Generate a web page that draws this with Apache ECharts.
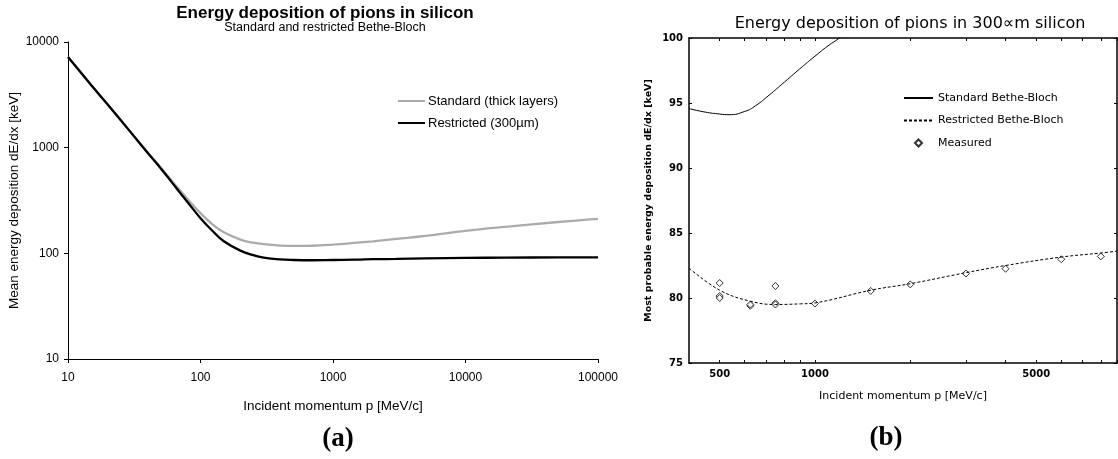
<!DOCTYPE html>
<html>
<head>
<meta charset="utf-8">
<script src="https://cdn.jsdelivr.net/npm/echarts@6/dist/echarts.min.js"></script>
<style>
  html, body { margin: 0; padding: 0; background: #fff; }
  #chart { width: 1118px; height: 459px; }
</style>
</head>
<body>
<div id="chart"></div>
<script>
// (a) Mean energy deposition vs momentum, log-log
const momentumA = [10, 15, 20, 30, 40, 50, 60, 70, 80, 100, 125, 150, 200, 250, 300, 400, 500, 700, 1000, 1500, 2000, 3000, 5000, 10000, 20000, 50000, 100000];
const standardA = [7200, 3900, 2550, 1380, 900, 650, 495, 395, 325, 240, 185, 158, 135, 126, 122, 118.5, 117.5, 118, 121, 126, 130, 137, 146, 163, 178, 198, 212];
const restrictedA = [7200, 3900, 2550, 1380, 890, 640, 480, 375, 305, 215, 160, 130, 106, 96, 91, 87.5, 86.5, 86, 86.5, 87, 88, 88.5, 89.5, 90.5, 91, 91.5, 91.5];
const ticksA_x = [10, 100, 1000, 10000, 100000];
const ticksA_y = [10, 100, 1000, 10000];

// (b) Most probable energy deposition in 300 um silicon
const momentumB = [400, 450, 500, 535, 600, 650, 716, 800, 913, 1000, 1100, 1194, 1300];
const standardB = [94.57, 94.3, 94.15, 94.1, 94.35, 94.8, 95.6, 96.6, 97.8, 98.6, 99.4, 100, 100.8];
const momentumBr = [400, 500, 625, 750, 900, 1000, 1500, 2000, 3000, 4000, 6000, 8000, 9000];
const restrictedB = [82.3, 80.6, 79.75, 79.5, 79.55, 79.62, 80.6, 81.1, 81.95, 82.5, 83.15, 83.46, 83.6];
const measuredP = [500, 500, 500, 625, 625, 750, 750, 750, 1000, 1500, 2000, 3000, 4000, 6000, 8000];
const measuredE = [81.15, 80.15, 80.0, 79.4, 79.5, 80.92, 79.6, 79.5, 79.57, 80.54, 81.05, 81.88, 82.25, 82.98, 83.2];
const labelsB_x = [500, 1000, 5000];
const ticksB_x = [500, 600, 700, 800, 900, 1000, 2000, 3000, 4000, 5000, 6000, 7000, 8000, 9000];

const zip = (xs, ys) => xs.map((x, i) => [x, ys[i]]);
const plain = v => String(Math.round(v));

const chart = echarts.init(document.getElementById('chart'), null, { renderer: 'canvas' });

const fontA = 'Liberation Sans, Arial, sans-serif';
const fontB = 'DejaVu Sans, sans-serif';
const hiddenMarker = { opacity: 0 };

chart.setOption({
  backgroundColor: '#fff',
  animation: false,
  title: [
    { text: 'Energy deposition of pions in silicon', left: 320, top: 0, textAlign: 'center',
      textStyle: { fontFamily: fontA, fontSize: 17, fontWeight: 'bold', color: '#000' } },
    { text: 'Standard and restricted Bethe-Bloch', left: 320, top: 16, textAlign: 'center',
      textStyle: { fontFamily: fontA, fontSize: 12.5, fontWeight: 'normal', color: '#000' } },
    { text: 'Energy deposition of pions in 300\u221Dm silicon', left: 905, top: 11, textAlign: 'center',
      textStyle: { fontFamily: fontB, fontSize: 16, fontWeight: 'normal', color: '#000' } },
    { text: '(a)', left: 333, top: 421, textAlign: 'center',
      textStyle: { fontFamily: 'Liberation Serif, serif', fontSize: 27, fontWeight: 'bold', color: '#000' } },
    { text: '(b)', left: 881, top: 420, textAlign: 'center',
      textStyle: { fontFamily: 'Liberation Serif, serif', fontSize: 27, fontWeight: 'bold', color: '#000' } }
  ],
  legend: [
    { left: 397, top: 94, padding: 0, orient: 'vertical', itemWidth: 27, itemHeight: 14, itemGap: 8,
      itemStyle: hiddenMarker,
      data: ['Standard (thick layers)', 'Restricted (300\u00B5m)'],
      textStyle: { fontFamily: fontA, fontSize: 13, lineHeight: 14, color: '#000', padding: [0, 0, 0, -2] } },
    { left: 903, top: 91, padding: 0, orient: 'vertical', itemWidth: 29, itemHeight: 14, itemGap: 8.5,
      itemStyle: hiddenMarker,
      data: ['Standard Bethe-Bloch', 'Restricted Bethe-Bloch'],
      textStyle: { fontFamily: fontB, fontSize: 11, lineHeight: 14, color: '#000' } },
    { left: 914, top: 136, padding: 0, orient: 'vertical', itemWidth: 7, itemHeight: 7,
      data: ['Measured'],
      textStyle: { fontFamily: fontB, fontSize: 11, lineHeight: 14, color: '#000', padding: [0, 0, 0, 11] } }
  ],
  grid: [
    { left: 68, top: 42, width: 530, height: 317 },
    { left: 689, top: 38, width: 428, height: 325 }
  ],
  xAxis: [
    { gridIndex: 0, type: 'log', logBase: 10, min: 10, max: 100000,
      name: 'Incident momentum p [MeV/c]', nameLocation: 'middle', nameGap: 40,
      nameTextStyle: { fontFamily: fontA, fontSize: 13.5, color: '#000' },
      axisLine: { lineStyle: { color: '#000', width: 1 } },
      axisTick: { show: true, inside: false, length: 4, customValues: ticksA_x, lineStyle: { color: '#000' } },
      axisLabel: { customValues: ticksA_x, formatter: plain, fontFamily: fontA, fontSize: 12, color: '#000', margin: 13 },
      splitLine: { show: false }, minorTick: { show: false } },
    { gridIndex: 1, type: 'log', logBase: 10, min: 400, max: 9000, position: 'bottom',
      name: 'Incident momentum p [MeV/c]', nameLocation: 'middle', nameGap: 28,
      nameTextStyle: { fontFamily: fontB, fontSize: 11, color: '#000' },
      axisLine: { onZero: false, lineStyle: { color: '#000', width: 1.5 } },
      axisTick: { show: true, inside: true, length: 3, customValues: ticksB_x, lineStyle: { color: '#000' } },
      axisLabel: { customValues: labelsB_x, formatter: plain, fontFamily: fontB, fontSize: 10, fontWeight: 'bold', color: '#000', margin: 6 },
      splitLine: { show: false } },
    { gridIndex: 1, type: 'log', logBase: 10, min: 400, max: 9000, position: 'top',
      axisLine: { onZero: false, lineStyle: { color: '#000', width: 1.5 } },
      axisTick: { show: true, inside: true, length: 3, customValues: ticksB_x, lineStyle: { color: '#000' } },
      axisLabel: { show: false }, splitLine: { show: false } }
  ],
  yAxis: [
    { gridIndex: 0, type: 'log', logBase: 10, min: 10, max: 10000,
      name: 'Mean energy deposition dE/dx [keV]', nameLocation: 'middle', nameGap: 47,
      nameTextStyle: { fontFamily: fontA, fontSize: 13.5, color: '#000' },
      axisLine: { show: true, lineStyle: { color: '#000', width: 1 } },
      axisTick: { show: true, inside: false, length: 4, customValues: ticksA_y, lineStyle: { color: '#000' } },
      axisLabel: { customValues: ticksA_y, formatter: plain, fontFamily: fontA, fontSize: 12, color: '#000', margin: 9 },
      splitLine: { show: false }, minorTick: { show: false } },
    { gridIndex: 1, type: 'value', min: 75, max: 100, interval: 5, position: 'left',
      name: 'Most probable energy deposition dE/dx [keV]', nameLocation: 'middle', nameGap: 35,
      nameTextStyle: { fontFamily: fontB, fontSize: 9.5, fontWeight: 'bold', color: '#000' },
      axisLine: { show: true, onZero: false, lineStyle: { color: '#000', width: 1.5 } },
      axisTick: { show: true, inside: true, length: 3, lineStyle: { color: '#000' } },
      axisLabel: { fontFamily: fontB, fontSize: 10, fontWeight: 'bold', color: '#000', margin: 6 },
      splitLine: { show: false } },
    { gridIndex: 1, type: 'value', min: 75, max: 100, interval: 5, position: 'right',
      axisLine: { show: true, onZero: false, lineStyle: { color: '#000', width: 1.5 } },
      axisTick: { show: true, inside: true, length: 3, lineStyle: { color: '#000' } },
      axisLabel: { show: false }, splitLine: { show: false } }
  ],
  series: [
    { name: 'Standard (thick layers)', type: 'line', xAxisIndex: 0, yAxisIndex: 0,
      data: zip(momentumA, standardA), smooth: 0.4, symbol: 'none',
      lineStyle: { color: '#ababab', width: 2.3 }, itemStyle: { color: '#ababab' } },
    { name: 'Restricted (300\u00B5m)', type: 'line', xAxisIndex: 0, yAxisIndex: 0,
      data: zip(momentumA, restrictedA), smooth: 0.4, symbol: 'none',
      lineStyle: { color: '#000', width: 2.3 }, itemStyle: { color: '#000' } },
    { name: 'Standard Bethe-Bloch', type: 'line', xAxisIndex: 1, yAxisIndex: 1,
      data: zip(momentumB, standardB), smooth: 0.5, symbol: 'none', clip: true,
      lineStyle: { color: '#000', width: 1 }, itemStyle: { color: '#000' } },
    { name: 'Restricted Bethe-Bloch', type: 'line', xAxisIndex: 1, yAxisIndex: 1,
      data: zip(momentumBr, restrictedB), smooth: 0.4, symbol: 'none', clip: true,
      lineStyle: { color: '#000', width: 1, type: [3, 2] }, itemStyle: { color: '#000' } },
    { name: 'Measured', type: 'scatter', xAxisIndex: 1, yAxisIndex: 1,
      data: zip(measuredP, measuredE), symbol: 'diamond', symbolSize: 7,
      itemStyle: { color: '#fff', borderColor: '#000', borderWidth: 1 } }
  ]
});
</script>
</body>
</html>
